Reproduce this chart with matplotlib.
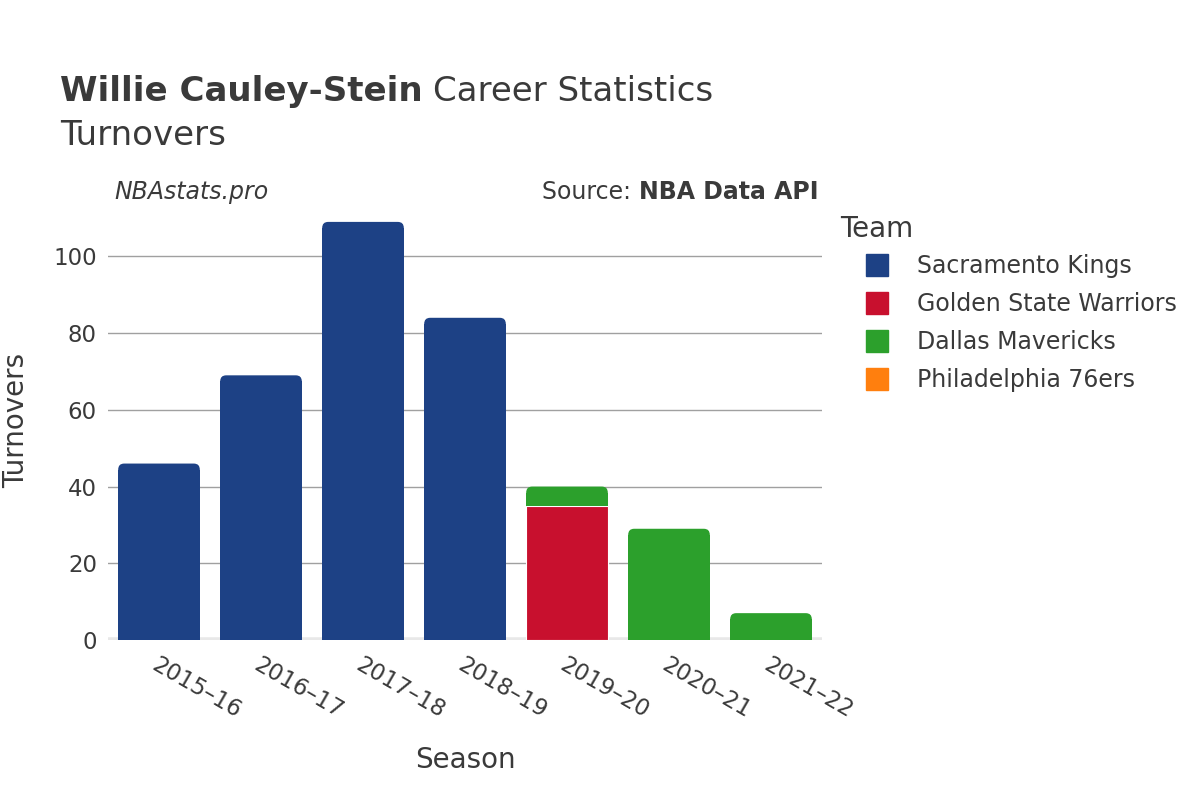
import numpy as np
import matplotlib.pyplot as plt
from matplotlib.patches import FancyBboxPatch, Rectangle

seasons = ['2015–16', '2016–17', '2017–18', '2018–19', '2019–20', '2020–21', '2021–22']
teams = ['Sacramento Kings', 'Golden State Warriors', 'Dallas Mavericks', 'Philadelphia 76ers']
kings = [46, 69, 109, 84, 0, 0, 0]
warriors = [0, 0, 0, 0, 35, 0, 0]
mavericks = [0, 0, 0, 0, 5, 29, 7]
sixers = [0, 0, 0, 0, 0, 0, 0]
colors = ['#1d4185', '#c8102e', '#2ca02c', '#ff7f0e']

txt = '#3a3a3a'
plt.rcParams['font.family'] = ['DejaVu Sans']

fig = plt.figure(figsize=(12, 8), dpi=100)
ax = fig.add_axes([0.09, 0.2, 0.595, 0.549])

x = np.arange(len(seasons))
ax.set_xlim(-0.5, len(seasons) - 0.5)
ax.set_ylim(0, 114.5)

# px per data unit, for rounded top corners
sx = ax.bbox.width / 7.0
sy = ax.bbox.height / 114.5
r_px = 6.0

bottom = np.zeros(len(seasons))
all_vals = [np.array(v, dtype=float) for v in [kings, warriors, mavericks, sixers]]
total = np.sum(all_vals, axis=0)
for name, vals, c in zip(teams, all_vals, colors):
    keep = vals > 0
    if keep.any():
        bars = ax.bar(x[keep], vals[keep], 0.8, bottom=bottom[keep], color=c,
                      edgecolor='white', linewidth=0.8, zorder=3)
        for i, b in zip(x[keep], bars):
            if np.isclose(bottom[i] + vals[i], total[i]):
                # top segment: rounded top corners, square bottom
                b.set_visible(False)
                x0, y0, w, h = b.get_x(), b.get_y(), b.get_width(), b.get_height()
                rx = r_px / sx
                ry = r_px / sy
                ax.add_patch(FancyBboxPatch((x0, y0), w, h,
                                            boxstyle=f'round,pad=0,rounding_size={rx}',
                                            mutation_aspect=ry / rx, facecolor=c,
                                            edgecolor='none', zorder=3))
                ax.add_patch(Rectangle((x0, y0), w, h - ry, facecolor=c,
                                       edgecolor='none', zorder=3))
    bottom += vals

ax.set_yticks([0, 20, 40, 60, 80, 100])
ax.grid(axis='y', color='#a0a0a0', linewidth=1, zorder=0)
ax.axhline(0, color='#e8e8e8', linewidth=4, zorder=2)
for s in ax.spines.values():
    s.set_visible(False)
ax.tick_params(axis='both', length=0, labelsize=16.5, colors=txt)
ax.tick_params(axis='y', pad=8)
ax.set_xticks(x)
ax.set_xticklabels(seasons, rotation=-30, ha='left', va='top', rotation_mode='anchor')
ax.tick_params(axis='x', pad=10)

ax.set_xlabel('Season', fontsize=20, color=txt, labelpad=16)
ax.set_ylabel('Turnovers', fontsize=20, color=txt, labelpad=17)

fig.text(0.05, 0.874, 'Willie Cauley-Stein', fontsize=24.5, fontweight='bold', color=txt, va='baseline')
t = fig.texts[-1]
fig.canvas.draw()
bb = t.get_window_extent()
fig.text(bb.x1 / 1200 + 0.009, 0.874, 'Career Statistics', fontsize=24.5, color=txt, va='baseline')
fig.text(0.05, 0.819, 'Turnovers', fontsize=24.5, color=txt, va='baseline')
fig.text(0.095, 0.751, 'NBAstats.pro', fontsize=17, style='italic', color=txt, va='baseline')
src = fig.text(0.682, 0.751, 'Source: ', fontsize=17, color=txt, va='baseline', ha='right')
api = fig.text(0.682, 0.751, 'NBA Data API', fontsize=17, fontweight='bold', color=txt, va='baseline', ha='right')
fig.canvas.draw()
w = api.get_window_extent().width
src.set_position((0.682 - w / 1200, 0.751))

fig.text(0.7, 0.704, 'Team', fontsize=20, color=txt, va='baseline')
handles = [plt.Line2D([], [], marker='s', linestyle='', markersize=16, color=c) for c in colors]
leg = fig.legend(handles, teams, loc='upper left', bbox_to_anchor=(0.7167, 0.6825),
                 frameon=False, fontsize=17, borderpad=0, handlelength=1.4,
                 labelspacing=0.6, handletextpad=1.0, borderaxespad=0)
for tx in leg.get_texts():
    tx.set_color(txt)

fig.savefig('out.png', dpi=100)
